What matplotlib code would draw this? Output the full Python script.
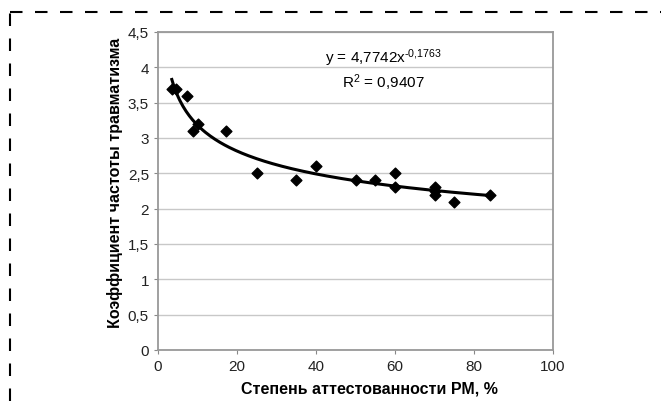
import numpy as np
import matplotlib.pyplot as plt
from matplotlib.lines import Line2D
from matplotlib.ticker import FuncFormatter

# data
attest = [3.5, 4.6, 7.4, 8.9, 10.2, 17.2, 25, 35, 40, 50, 55, 60, 60, 70, 70, 70, 75, 84]
coef = [3.7, 3.7, 3.6, 3.1, 3.2, 3.1, 2.5, 2.4, 2.6, 2.4, 2.4, 2.5, 2.3, 2.3, 2.25, 2.2, 2.1, 2.2]
trend_a = 4.7742
trend_b = -0.1763
trend_x = [3.5, 84]

plt.rcParams['font.family'] = ['Liberation Sans', 'DejaVu Sans']
plt.rcParams['mathtext.fontset'] = 'custom'
plt.rcParams['mathtext.rm'] = 'Liberation Sans'
plt.rcParams['mathtext.default'] = 'rm'

fig = plt.figure(figsize=(6.61, 4.02), dpi=100)
ax = fig.add_axes([158 / 661, 1 - 351 / 402, (553 - 158) / 661, (351 - 33) / 402])

xs = np.linspace(trend_x[0], trend_x[1], 200)
ax.plot(xs, trend_a * xs ** trend_b, color='black', lw=2.2, zorder=3)
ax.scatter(attest, coef, marker='D', s=30, color='black', zorder=4)

ax.set_xlim(0, 100)
ax.set_ylim(0, 4.5)
ax.set_xticks(np.arange(0, 101, 20))
ax.set_yticks(np.arange(0, 4.51, 0.5))
comma = FuncFormatter(lambda v, p: ('%g' % v).replace('.', ','))
ax.xaxis.set_major_formatter(comma)
ax.yaxis.set_major_formatter(comma)
ax.tick_params(labelsize=11, length=3, color='#888888', labelcolor='#222222')
ax.grid(axis='y', color='#c8c8c8', lw=1)
ax.set_axisbelow(True)
for s in ax.spines.values():
    s.set_color('#999999')
    s.set_linewidth(1.3)

ax.set_xlabel('Степень аттестованности РМ, %', fontsize=11.5, fontweight='bold')
ax.set_ylabel('Коэффициент частоты травматизма', fontsize=11.5, fontweight='bold')
ax.xaxis.set_label_coords(0.535, -0.095)
ax.yaxis.set_label_coords(-0.088, 0.53)

ax.text(57, 4.14, 'y = 4,7742x$^{\u2010 0{,}1763}$', ha='center', va='center', fontsize=11)
ax.text(57, 3.8, 'R$^2$ = 0,9407', ha='center', va='center', fontsize=11)

# dashed frame (top and left)
fig.add_artist(Line2D([10 / 661, 1], [1 - 13 / 402] * 2, transform=fig.transFigure,
                      color='black', lw=1.5, ls=(0, (6, 6))))
fig.add_artist(Line2D([10 / 661] * 2, [0, 1 - 13 / 402], transform=fig.transFigure,
                      color='black', lw=1.5, ls=(0, (6, 6))))

fig.savefig('out.png', dpi=100)
